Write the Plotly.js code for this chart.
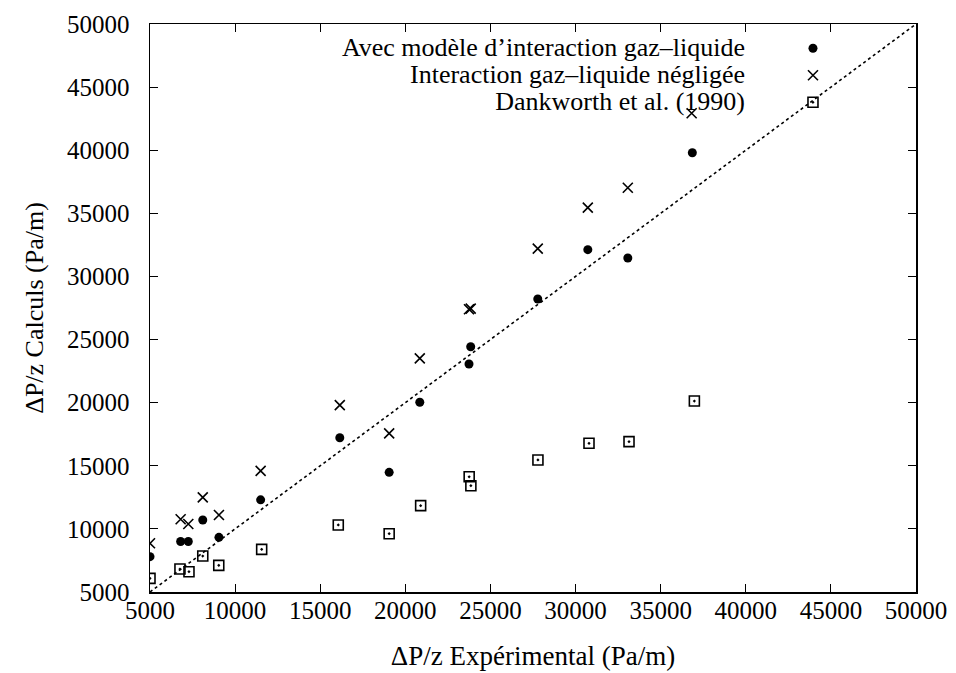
<!DOCTYPE html>
<html><head><meta charset="utf-8">
<script src="https://cdn.plot.ly/plotly-3.0.1.min.js"></script>
<style>body{margin:0;background:#fff}</style>
</head><body>
<div id="chart" style="width:956px;height:673px"></div>
<script>
const seriesNames = ["Avec modèle d\u2019interaction gaz\u2013liquide", "Interaction gaz\u2013liquide négligée", "Dankworth et al. (1990)"];
const xAvec = [5000, 6800, 7250, 8100, 9050, 11500, 16150, 19050, 20850, 23840, 23740, 27780, 30720, 33070, 36860];
const yAvec = [7800, 9000, 9000, 10700, 9330, 12300, 17220, 14480, 20030, 24430, 23060, 28210, 32120, 31460, 39800];
const xNeg = [5000, 6800, 7250, 8100, 9050, 11500, 16150, 19050, 20850, 23740, 23840, 27780, 30720, 33070, 36820];
const yNeg = [8860, 10760, 10390, 12500, 11100, 14600, 19810, 17570, 23510, 27400, 27450, 32200, 35450, 37030, 42930];
const xDank = [5000, 6760, 7290, 8100, 9040, 11560, 16060, 19050, 20900, 23750, 23850, 27790, 30790, 33140, 36980];
const yDank = [6080, 6820, 6610, 7850, 7110, 8380, 10310, 9620, 11840, 14130, 13420, 15460, 16780, 16910, 20130];
const diagX = [5000, 50000];
const diagY = [5000, 50000];
const tickVals = [5000, 10000, 15000, 20000, 25000, 30000, 35000, 40000, 45000, 50000];
const tickText = tickVals.map(String);

const FONT = "'Liberation Serif', 'Times New Roman', serif";

const traces = [
  {x: diagX, y: diagY, mode: "lines", line: {color: "#000", width: 1.6, dash: "dot"}, showlegend: false, hoverinfo: "skip"},
  {x: xAvec, y: yAvec, mode: "markers", name: seriesNames[0], marker: {symbol: "circle", size: 9, color: "#000"}},
  {x: xNeg, y: yNeg, mode: "markers", name: seriesNames[1], marker: {symbol: "x-thin-open", size: 10, color: "#000", line: {color: "#000", width: 1.6}}},
  {x: xDank, y: yDank, mode: "markers", name: seriesNames[2], marker: {symbol: "square-open-dot", size: 10, color: "#000", line: {color: "#000", width: 1.6}}}
];

const axisCommon = {
  range: [5000, 50000], tickvals: tickVals, ticktext: tickText, tickangle: 0, automargin: false,
  showgrid: false, zeroline: false, showline: true, mirror: "ticks",
  linecolor: "#000", linewidth: 1.5, ticks: "inside", ticklen: 8, tickwidth: 1.2, tickcolor: "#000",
  tickfont: {family: FONT, size: 25, color: "#000"}
};

const layout = {
  width: 956, height: 673,
  margin: {l: 150, r: 40, t: 24, b: 81, autoexpand: false},
  paper_bgcolor: "#fff", plot_bgcolor: "#fff",
  font: {family: FONT, color: "#000"},
  xaxis: Object.assign({}, axisCommon, {
    ticklabelstandoff: -5,
    title: {text: "\u0394P/z Expérimental (Pa/m)", font: {family: FONT, size: 27, color: "#000"}, standoff: 23}
  }),
  yaxis: Object.assign({}, axisCommon, {
    ticklabelstandoff: 14,
    title: {text: "\u0394P/z Calculs (Pa/m)", font: {family: FONT, size: 26, color: "#000"}, standoff: 16}
  }),
  showlegend: true,
  legend: {
    x: 0.8394, xanchor: "left", y: 0.99, yanchor: "top",
    bgcolor: "rgba(0,0,0,0)", borderwidth: 0,
    font: {family: FONT, size: 18.5, color: "#000"}
  }
};

Plotly.newPlot("chart", traces, layout, {displayModeBar: false, staticPlot: true}).then(function () {
  const leg = document.querySelector(".legend");
  if (!leg) return;
  leg.querySelectorAll("[clip-path]").forEach(function (el) { el.removeAttribute("clip-path"); });
  leg.querySelectorAll("text.legendtext").forEach(function (t) {
    t.setAttribute("text-anchor", "end");
    t.setAttribute("x", -48);
    t.setAttribute("y", 8);
    t.style.fontSize = "26px";
    t.querySelectorAll("tspan").forEach(function (s) { if (s.hasAttribute("x")) s.setAttribute("x", -48); });
  });
});
</script>
</body></html>
